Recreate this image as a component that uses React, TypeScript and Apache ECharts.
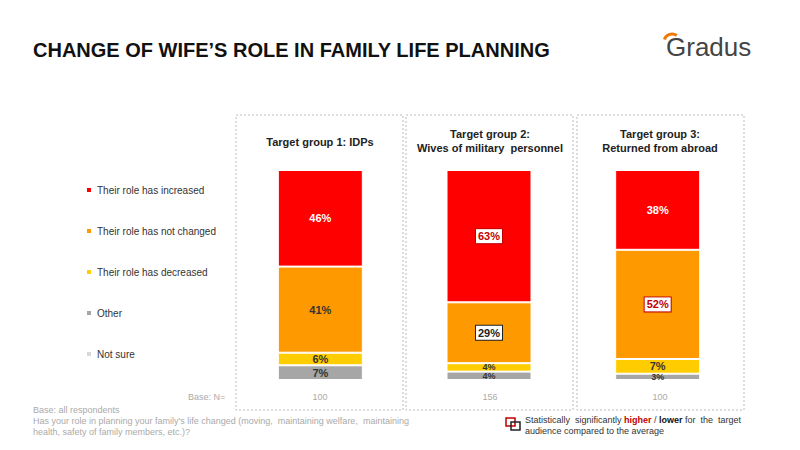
import React, { useEffect, useRef } from "react";
import * as echarts from "echarts";

const groups = ["Target group 1: IDPs", "Target group 2:\nWives of military  personnel", "Target group 3:\nReturned from abroad"];
const baseN = ["100", "156", "100"];
const seriesNames = ["Their role has increased", "Their role has not changed", "Their role has decreased", "Other", "Not sure"];
const colors = ["#FF0000", "#FF9900", "#FFCC00", "#A6A6A6", "#D9D9D9"];
const increased = [46, 63, 38];
const notChanged = [41, 29, 52];
const decreased = [6, 4, 7];
const other = [7, 4, 3];
const notSure = [0, 0, 0];
// significance: 1 higher, -1 lower, 0 none
const sigIncreased = [0, 1, 0];
const sigNotChanged = [0, -1, 1];

const App = () => {
  const ref = useRef<HTMLDivElement>(null);
  useEffect(() => {
    if (!ref.current) return;
    const chart = echarts.init(ref.current, null, { renderer: "svg" });
    const values = [increased, notChanged, decreased, other, notSure];
    const sigs = [sigIncreased, sigNotChanged, null, null, null];
    const labelColors = ["#ffffff", "#333333", "#333333", "#333333", "#333333"];
    const series: any[] = [];
    for (let i = 4; i >= 0; i--) {
      series.push({
        name: seriesNames[i],
        type: "bar",
        stack: "total",
        barWidth: 85,
        itemStyle: { color: colors[i], borderColor: "#fff", borderWidth: 1 },
        data: values[i].map((v, j) => {
          const s = sigs[i] ? sigs[i]![j] : 0;
          const label: any = {
            show: v > 0,
            formatter: "{c}%",
            fontWeight: "bold",
            fontSize: v < 5 ? 9 : 11,
            color: labelColors[i],
          };
          if (s !== 0) {
            label.backgroundColor = "#fff";
            label.borderColor = s > 0 ? "#C00000" : "#222";
            label.borderWidth = 1;
            label.padding = [2, 2, 1, 2];
            label.color = s > 0 ? "#C00000" : "#222";
          }
          if (i === 2 || i === 3) label.lineHeight = 8;
          return { value: v, label };
        }),
      });
    }
    const boxes = [236, 406, 577].map((x) => ({
      type: "rect",
      shape: { x, y: 115, width: 167, height: 295 },
      style: { fill: "none", stroke: "#bbb", lineDash: [2, 2], lineWidth: 1 },
    }));
    const heads = groups.map((g, j) => ({
      type: "text",
      x: 320 + j * 170,
      y: g.includes("\n") ? 127 : 135,
      style: { text: g, font: "bold 11px Arial", fill: "#222", align: "center", lineHeight: 14 },
    }));
    const bases = baseN.map((n, j) => ({
      type: "text",
      x: 320 + j * 170,
      y: 392,
      style: { text: n, font: "9px Arial", fill: "#aaa", align: "center" },
    }));
    chart.setOption({
      animation: false,
      grid: { left: 236, right: 58, top: 170, bottom: 70 },
      xAxis: { type: "category", data: groups, show: false },
      yAxis: { type: "value", min: 0, max: 100, show: false },
      legend: {
        data: seriesNames,
        orient: "vertical",
        left: 80,
        top: 180,
        itemGap: 31,
        itemWidth: 6,
        itemHeight: 6,
        icon: "rect",
        textStyle: { fontSize: 10, color: "#333", fontFamily: "Arial" },
      },
      series,
      graphic: [
        ...boxes,
        ...heads,
        ...bases,
        { type: "text", x: 33, y: 40, style: { text: "CHANGE OF WIFE’S ROLE IN FAMILY LIFE PLANNING", font: "bold 20px Arial", fill: "#111" } },
        { type: "arc", shape: { cx: 672, cy: 42, r: 8, startAngle: Math.PI * 1.1, endAngle: Math.PI * 1.7 }, style: { stroke: "#F07800", lineWidth: 3, fill: "none" } },
        { type: "text", x: 666, y: 34, style: { text: "Gradus", font: "26px Arial", fill: "#444" } },
        { type: "text", x: 188, y: 392, style: { text: "Base: N=", font: "9px Arial", fill: "#aaa" } },
        { type: "text", x: 33, y: 404, style: { text: "Base: all respondents\nHas your role in planning your family's life changed (moving,  maintaining welfare,  maintaining\nhealth, safety of family members, etc.)?", font: "9px Arial", fill: "#aaa", lineHeight: 11 } },
        { type: "rect", shape: { x: 506, y: 418, width: 9, height: 8 }, style: { fill: "none", stroke: "#C00000", lineWidth: 1.5 } },
        { type: "rect", shape: { x: 511, y: 422, width: 9, height: 8 }, style: { fill: "none", stroke: "#222", lineWidth: 1.5 } },
        {
          type: "text", x: 525, y: 414,
          style: {
            text: "Statistically  significantly {h|higher} / {l|lower} for  the  target\naudience compared to the average",
            font: "9px Arial", fill: "#333", lineHeight: 11,
            rich: { h: { fontWeight: "bold", fill: "#C00000", fontSize: 9 }, l: { fontWeight: "bold", fill: "#111", fontSize: 9 } },
          },
        },
      ],
    });
    return () => chart.dispose();
  }, []);
  return <div ref={ref} style={{ width: 800, height: 450, margin: -8, background: "#fff" }} />;
};

export default App;
